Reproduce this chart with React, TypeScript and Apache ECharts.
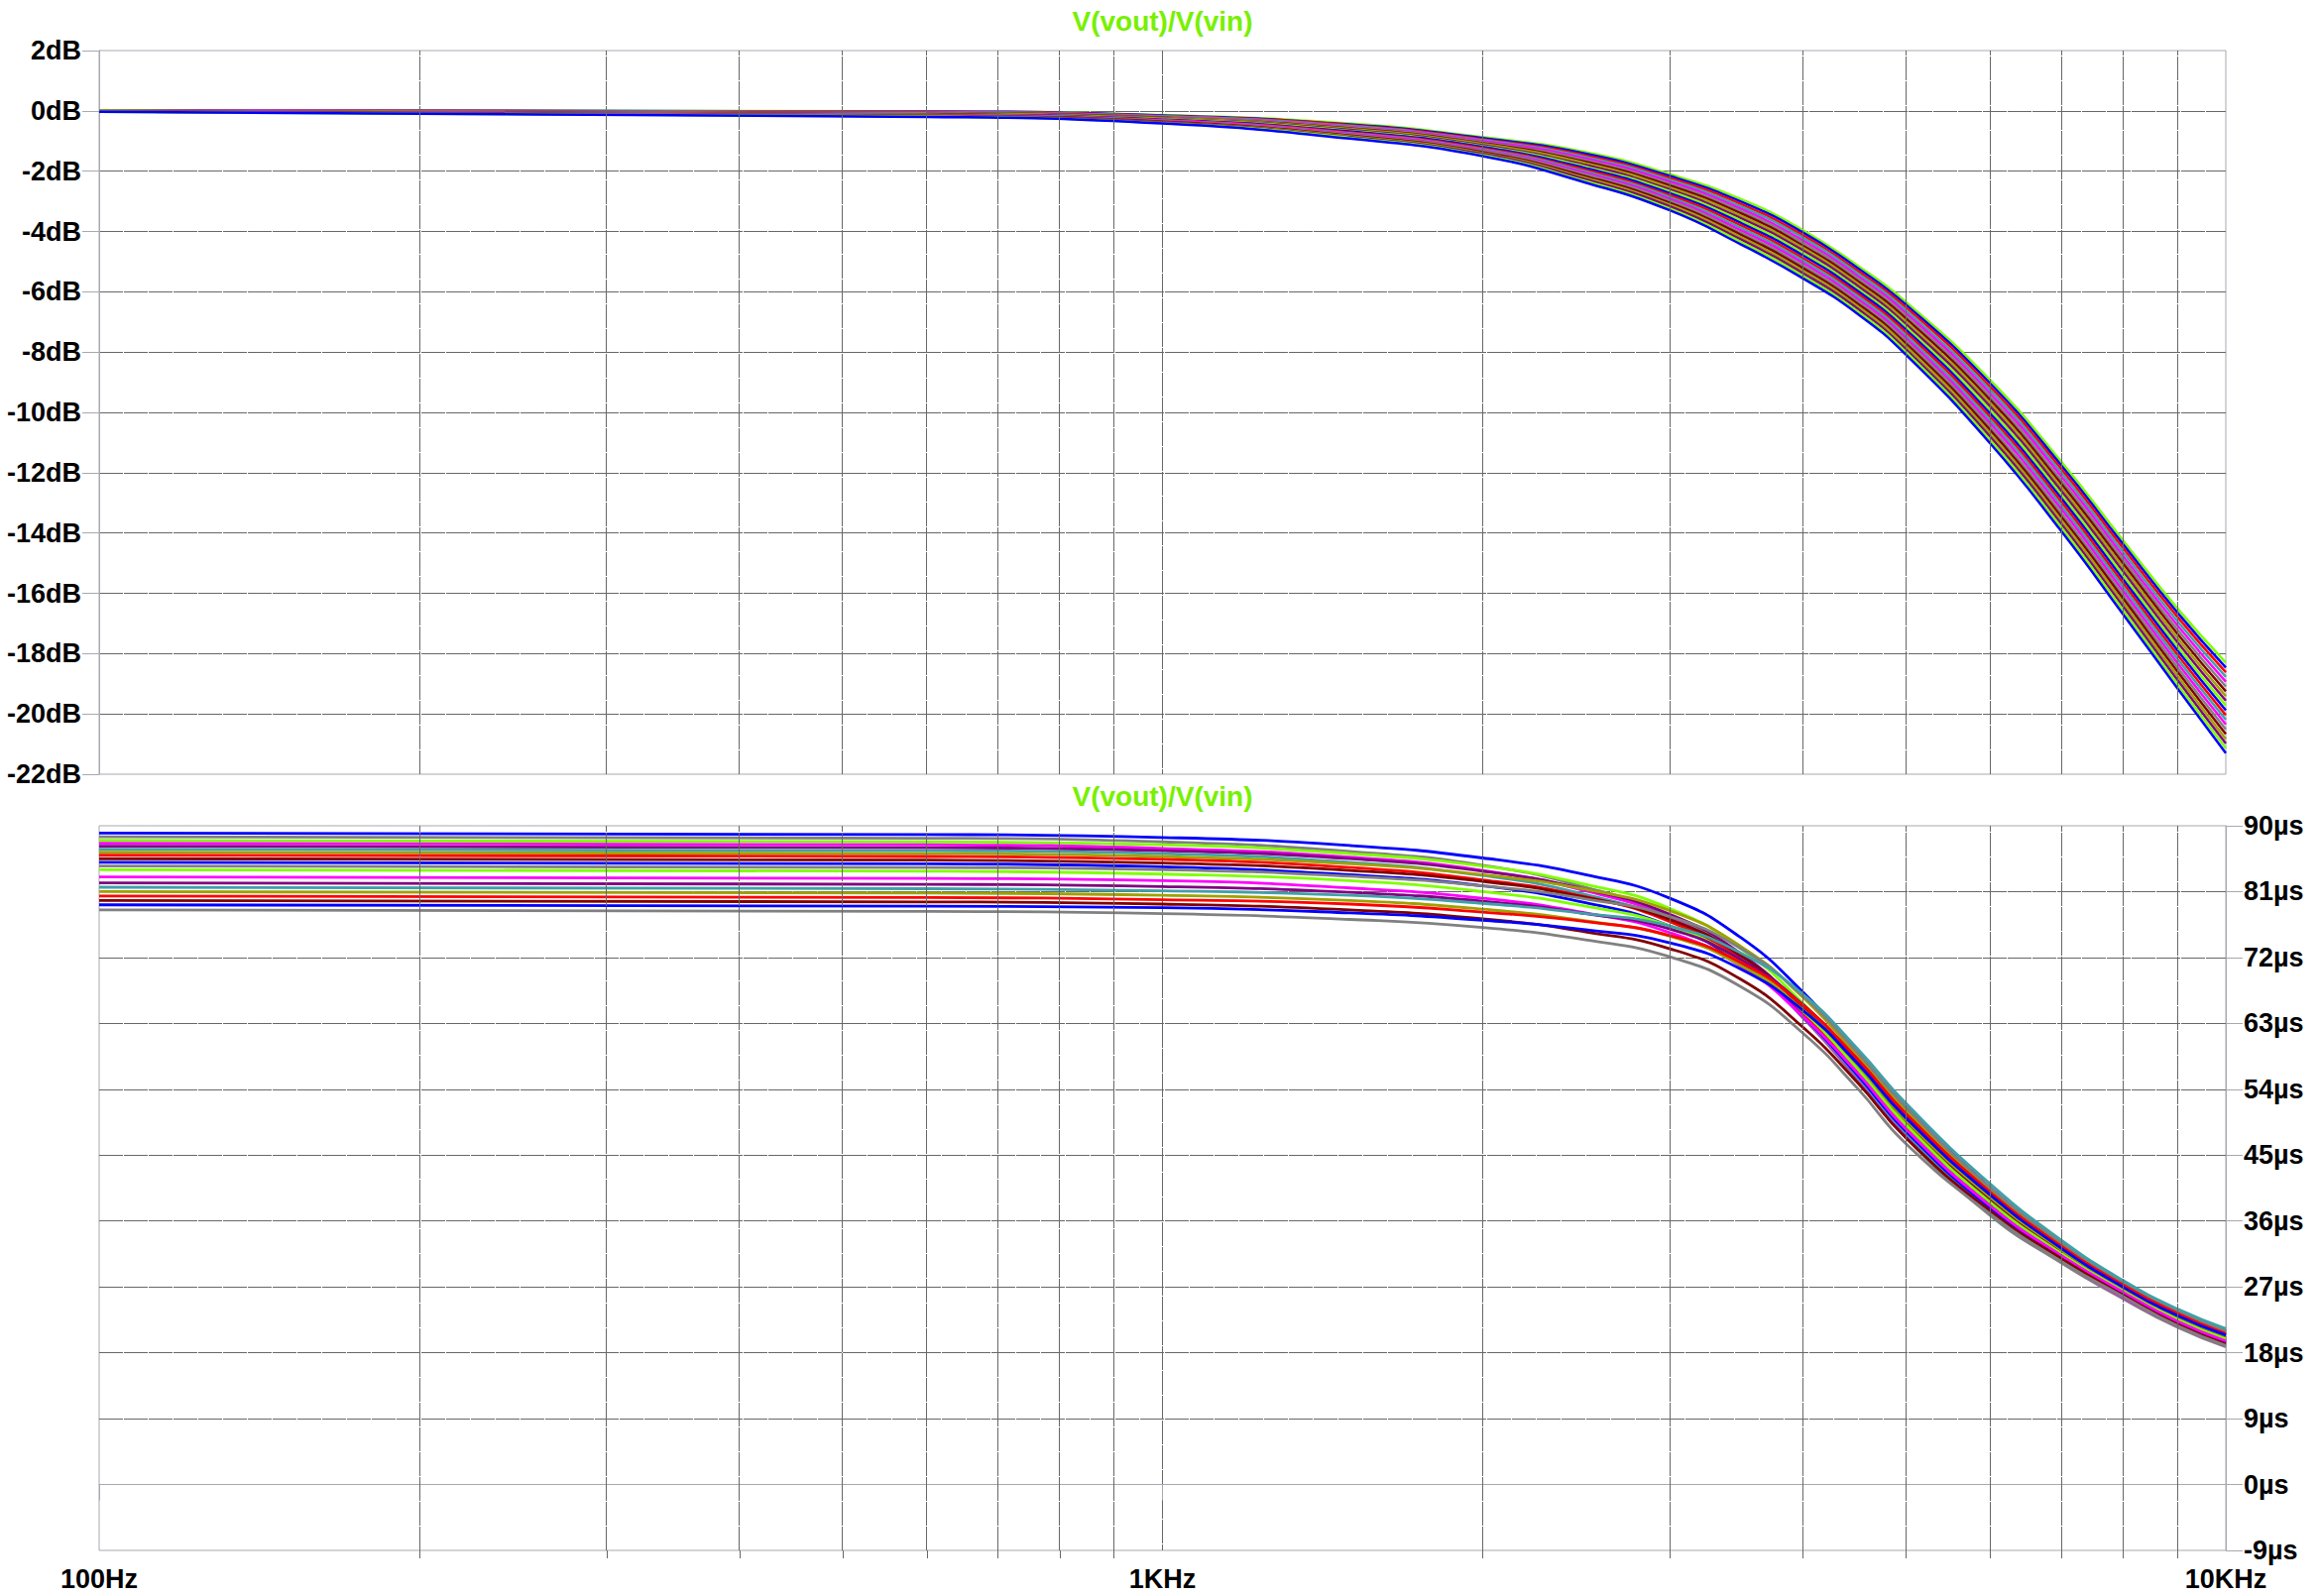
import React, { useEffect, useRef } from "react";
import * as echarts from "echarts";

const FREQ = [100, 600, 1000, 1500, 2000, 2500, 3000, 3500, 4000, 4500, 5000, 6000, 7000, 8000, 9000, 10000];

// Gain runs (dB)
const mag00 = [0.02, -0.01, -0.14, -0.42, -0.87, -1.37, -2.1, -2.93, -3.95, -5.12, -6.33, -8.92, -11.63, -14.23, -16.49, -18.3];
const mag01 = [0.02, -0.02, -0.15, -0.45, -0.9, -1.42, -2.16, -3.01, -4.03, -5.2, -6.42, -9.03, -11.75, -14.36, -16.63, -18.46];
const mag02 = [0.02, -0.03, -0.17, -0.47, -0.94, -1.48, -2.23, -3.09, -4.12, -5.29, -6.51, -9.14, -11.87, -14.49, -16.77, -18.62];
const mag03 = [0.01, -0.04, -0.18, -0.5, -0.97, -1.53, -2.29, -3.17, -4.2, -5.37, -6.61, -9.25, -11.99, -14.62, -16.91, -18.77];
const mag04 = [0.01, -0.05, -0.2, -0.53, -1, -1.58, -2.35, -3.25, -4.29, -5.46, -6.7, -9.36, -12.11, -14.75, -17.05, -18.93];
const mag05 = [0.01, -0.06, -0.21, -0.55, -1.04, -1.64, -2.42, -3.32, -4.37, -5.54, -6.79, -9.47, -12.24, -14.87, -17.19, -19.09];
const mag06 = [0, -0.07, -0.23, -0.58, -1.07, -1.69, -2.48, -3.4, -4.46, -5.63, -6.88, -9.58, -12.36, -15, -17.33, -19.25];
const mag07 = [0, -0.08, -0.24, -0.6, -1.1, -1.74, -2.54, -3.48, -4.54, -5.71, -6.98, -9.69, -12.48, -15.13, -17.47, -19.41];
const mag08 = [0, -0.09, -0.26, -0.63, -1.14, -1.8, -2.61, -3.56, -4.62, -5.79, -7.07, -9.8, -12.6, -15.26, -17.61, -19.56];
const mag09 = [0, -0.1, -0.27, -0.66, -1.17, -1.85, -2.67, -3.64, -4.71, -5.88, -7.16, -9.91, -12.72, -15.39, -17.75, -19.72];
const mag10 = [-0.01, -0.11, -0.29, -0.68, -1.2, -1.9, -2.73, -3.72, -4.79, -5.96, -7.25, -10.03, -12.84, -15.52, -17.88, -19.88];
const mag11 = [-0.01, -0.12, -0.3, -0.71, -1.24, -1.96, -2.8, -3.8, -4.88, -6.05, -7.34, -10.14, -12.96, -15.65, -18.02, -20.04];
const mag12 = [-0.01, -0.13, -0.32, -0.74, -1.27, -2.01, -2.86, -3.88, -4.96, -6.13, -7.44, -10.25, -13.08, -15.78, -18.16, -20.19];
const mag13 = [-0.01, -0.14, -0.33, -0.76, -1.3, -2.06, -2.92, -3.96, -5.04, -6.22, -7.53, -10.36, -13.2, -15.91, -18.3, -20.35];
const mag14 = [-0.02, -0.15, -0.35, -0.79, -1.33, -2.11, -2.98, -4.04, -5.13, -6.3, -7.62, -10.47, -13.33, -16.04, -18.44, -20.51];
const mag15 = [-0.02, -0.16, -0.36, -0.82, -1.37, -2.17, -3.05, -4.11, -5.21, -6.38, -7.71, -10.58, -13.45, -16.16, -18.58, -20.67];
const mag16 = [-0.02, -0.17, -0.38, -0.84, -1.4, -2.22, -3.11, -4.19, -5.3, -6.47, -7.8, -10.69, -13.57, -16.29, -18.72, -20.83];
const mag17 = [-0.02, -0.18, -0.39, -0.87, -1.43, -2.27, -3.17, -4.27, -5.38, -6.55, -7.9, -10.8, -13.69, -16.42, -18.86, -20.98];
const mag18 = [-0.03, -0.19, -0.41, -0.89, -1.47, -2.33, -3.24, -4.35, -5.47, -6.64, -7.99, -10.91, -13.81, -16.55, -19, -21.14];
const mag19 = [-0.03, -0.2, -0.42, -0.92, -1.5, -2.38, -3.3, -4.43, -5.55, -6.72, -8.08, -11.02, -13.93, -16.68, -19.14, -21.3];
const MAG_RUNS = [mag00, mag01, mag02, mag03, mag04, mag05, mag06, mag07, mag08, mag09, mag10, mag11, mag12, mag13, mag14, mag15, mag16, mag17, mag18, mag19];

// Group delay runs (µs)
const dly00 = [89.0, 88.8, 88.4, 87.3, 85.6, 83.3, 80.1, 74.7, 67.3, 59.1, 51.6, 40.6, 33.0, 27.6, 23.8, 21.0];
const dly01 = [88.5, 88.3, 87.8, 86.5, 84.6, 81.6, 77.7, 71.8, 63.8, 55.4, 47.4, 36.8, 30.3, 25.4, 21.5, 18.8];
const dly02 = [88.0, 87.8, 87.4, 86.2, 84.5, 82.0, 78.7, 73.2, 65.8, 57.7, 50.0, 39.1, 32.0, 26.7, 22.9, 20.1];
const dly03 = [87.6, 87.4, 86.9, 85.7, 83.9, 81.1, 77.4, 71.7, 63.9, 55.7, 47.8, 37.2, 30.6, 25.6, 21.7, 19.0];
const dly04 = [87.2, 87.0, 86.6, 85.5, 83.8, 81.3, 77.9, 72.5, 65.0, 56.9, 49.2, 38.5, 31.5, 26.4, 22.5, 19.8];
const dly05 = [86.8, 86.6, 86.2, 85.0, 83.2, 80.6, 77.0, 71.5, 64.0, 55.8, 48.0, 37.4, 30.7, 25.8, 21.9, 19.1];
const dly06 = [86.4, 86.2, 85.8, 84.8, 83.3, 81.3, 78.4, 73.5, 66.6, 58.6, 51.1, 40.2, 32.7, 27.3, 23.5, 20.7];
const dly07 = [86.0, 85.8, 85.4, 84.3, 82.6, 80.3, 76.9, 71.7, 64.4, 56.3, 48.6, 38.0, 31.2, 26.1, 22.2, 19.5];
const dly08 = [85.5, 85.3, 84.9, 83.9, 82.4, 80.2, 77.2, 72.2, 65.2, 57.2, 49.5, 38.9, 31.8, 26.6, 22.7, 20.0];
const dly09 = [85.0, 84.8, 84.4, 83.3, 81.8, 79.5, 76.3, 71.2, 64.0, 56.0, 48.3, 37.8, 31.1, 26.0, 22.1, 19.4];
const dly10 = [84.5, 84.3, 84.0, 83.1, 81.8, 80.0, 77.6, 73.2, 66.8, 59.1, 51.6, 40.6, 33.1, 27.6, 23.7, 21.0];
const dly11 = [84.0, 83.8, 83.4, 82.5, 81.0, 79.0, 76.3, 71.5, 64.7, 56.9, 49.2, 38.6, 31.6, 26.5, 22.6, 19.9];
const dly12 = [83.0, 82.8, 82.5, 81.5, 80.1, 78.1, 75.4, 70.8, 64.0, 56.3, 48.6, 38.1, 31.3, 26.3, 22.3, 19.6];
const dly13 = [82.2, 82.0, 81.7, 80.9, 79.7, 78.0, 75.9, 71.7, 65.6, 58.0, 50.5, 39.8, 32.4, 27.1, 23.2, 20.5];
const dly14 = [81.6, 81.4, 81.1, 80.5, 79.4, 78.0, 76.3, 72.6, 67.0, 59.6, 52.1, 41.1, 33.4, 27.9, 24.0, 21.3];
const dly15 = [81.0, 80.8, 80.5, 79.8, 78.6, 77.0, 74.9, 70.9, 64.9, 57.4, 49.8, 39.3, 32.1, 26.9, 23.0, 20.3];
const dly16 = [80.4, 80.2, 79.9, 79.3, 78.2, 76.9, 75.0, 71.3, 65.5, 58.2, 50.7, 40.0, 32.6, 27.3, 23.4, 20.6];
const dly17 = [79.8, 79.6, 79.3, 78.5, 77.3, 75.5, 73.2, 69.0, 62.5, 55.0, 47.4, 37.4, 30.9, 25.9, 21.9, 19.2];
const dly18 = [79.2, 79.0, 78.8, 78.1, 77.1, 75.8, 74.0, 70.4, 64.8, 57.6, 50.1, 39.6, 32.3, 27.0, 23.1, 20.4];
const dly19 = [78.5, 78.3, 78.0, 77.2, 76.1, 74.4, 72.1, 68.0, 61.7, 54.2, 46.6, 37.0, 30.5, 25.7, 21.7, 19.0];
const DLY_RUNS = [dly00, dly01, dly02, dly03, dly04, dly05, dly06, dly07, dly08, dly09, dly10, dly11, dly12, dly13, dly14, dly15, dly16, dly17, dly18, dly19];

// Minor (non-decade) vertical grid frequencies
const MINOR_FREQ = [200, 300, 400, 500, 600, 700, 800, 900, 2000, 3000, 4000, 5000, 6000, 7000, 8000, 9000];
const X_LABELS: Record<number, string> = { 100: "100Hz", 1000: "1KHz", 10000: "10KHz" };
const TITLE = "V(vout)/V(vin)";

const PALETTE = ["#7fff00", "#0000ff", "#ff0000", "#40a0a8", "#ff00ff", "#808080", "#800000", "#a0a000", "#800080"];
const FRAME = "#a8a8b0";
const GRIDC = "#676767";
const FONT = "'Liberation Sans', Arial, sans-serif";

export default function App() {
  const ref = useRef<HTMLDivElement>(null);
  useEffect(() => {
    const chart = echarts.init(ref.current!, null, { renderer: "svg" });
    const labelStyle = { fontSize: 27, fontWeight: "bold" as const, color: "#000", fontFamily: FONT };
    const gridLine = { color: GRIDC, width: 1, type: [24, 1] as number[] };

    const series: any[] = [];
    [0, 1].forEach((g) => {
      series.push({
        type: "line",
        xAxisIndex: g,
        yAxisIndex: g,
        data: [],
        silent: true,
        z: 1,
        markLine: {
          silent: true,
          symbol: ["none", "none"],
          label: { show: false },
          lineStyle: gridLine,
          emphasis: { disabled: true },
          data: MINOR_FREQ.map((f) => ({ xAxis: f })),
        },
      });
    });
    MAG_RUNS.forEach((run, i) => {
      series.push({
        type: "line",
        xAxisIndex: 0,
        yAxisIndex: 0,
        data: FREQ.map((f, j) => [f, run[j]]),
        showSymbol: false,
        symbol: "none",
        smooth: 0.5,
        silent: true,
        z: 3,
        lineStyle: { width: 2.5, color: PALETTE[i % PALETTE.length] },
      });
    });
    DLY_RUNS.forEach((run, i) => {
      series.push({
        type: "line",
        xAxisIndex: 1,
        yAxisIndex: 1,
        data: FREQ.map((f, j) => [f, run[j]]),
        showSymbol: false,
        symbol: "none",
        smooth: 0.5,
        silent: true,
        z: 3,
        lineStyle: { width: 2.8, color: PALETTE[(i * 4 + 1) % PALETTE.length] },
      });
    });

    const option: any = {
      animation: false,
      backgroundColor: "#ffffff",
      grid: [
        { left: 100, top: 51, width: 2145, height: 730, show: true, borderColor: FRAME, borderWidth: 1, backgroundColor: "transparent" },
        { left: 100, top: 833, width: 2145, height: 731, show: true, borderColor: FRAME, borderWidth: 1, backgroundColor: "transparent" },
      ],
      xAxis: [
        {
          gridIndex: 0, type: "log", logBase: 10, min: 100, max: 10000,
          axisLine: { show: false }, axisTick: { show: false }, axisLabel: { show: false },
          splitLine: { show: true, showMinLine: false, showMaxLine: false, lineStyle: gridLine },
        },
        {
          gridIndex: 1, type: "log", logBase: 10, min: 100, max: 10000,
          axisLine: { show: true, lineStyle: { color: FRAME } },
          axisTick: { show: true, length: 16, lineStyle: { color: FRAME } },
          axisLabel: { ...labelStyle, margin: 15, formatter: (v: number) => X_LABELS[Math.round(v)] ?? "" },
          splitLine: { show: true, showMinLine: false, showMaxLine: false, lineStyle: gridLine },
        },
      ],
      yAxis: [
        {
          gridIndex: 0, type: "value", min: -22, max: 2, interval: 2, position: "left",
          axisLine: { show: true, lineStyle: { color: FRAME } },
          axisTick: { show: true, length: 17, lineStyle: { color: FRAME } },
          axisLabel: { ...labelStyle, margin: 18, formatter: (v: number) => `${v}dB` },
          splitLine: { show: true, showMinLine: false, showMaxLine: false, lineStyle: gridLine },
        },
        {
          gridIndex: 1, type: "value", min: -9, max: 90, interval: 9, position: "right",
          axisLine: { show: true, lineStyle: { color: FRAME } },
          axisTick: { show: true, length: 17, lineStyle: { color: FRAME } },
          axisLabel: { ...labelStyle, margin: 18, formatter: (v: number) => `${v}µs` },
          splitLine: { show: true, showMinLine: false, showMaxLine: false, lineStyle: gridLine },
        },
      ],
      series,
    };
    chart.setOption(option);

    // titles and minor ticks under the lower plot, positioned through the axes
    const xMid = chart.convertToPixel({ xAxisIndex: 0 }, 1000) as number;
    const yBot = chart.convertToPixel({ yAxisIndex: 1 }, -9) as number;
    const graphics: any[] = [
      { type: "text", x: xMid, y: 21, style: { text: TITLE, fill: "#78f000", fontSize: 28, fontWeight: "bold", fontFamily: FONT, textAlign: "center", textVerticalAlign: "middle" } },
      { type: "text", x: xMid, y: 803, style: { text: TITLE, fill: "#78f000", fontSize: 28, fontWeight: "bold", fontFamily: FONT, textAlign: "center", textVerticalAlign: "middle" } },
    ];
    MINOR_FREQ.forEach((f) => {
      const x = Math.round(chart.convertToPixel({ xAxisIndex: 1 }, f) as number) + 0.5;
      graphics.push({ type: "line", shape: { x1: x, y1: yBot, x2: x, y2: yBot + 8 }, style: { stroke: GRIDC, lineWidth: 1 }, silent: true });
    });
    chart.setOption({ graphic: graphics });

    return () => chart.dispose();
  }, []);
  return (
    <div
      ref={ref}
      style={{ position: "fixed", left: 0, top: 0, width: 2339, height: 1610, background: "#fff" }}
    />
  );
}
